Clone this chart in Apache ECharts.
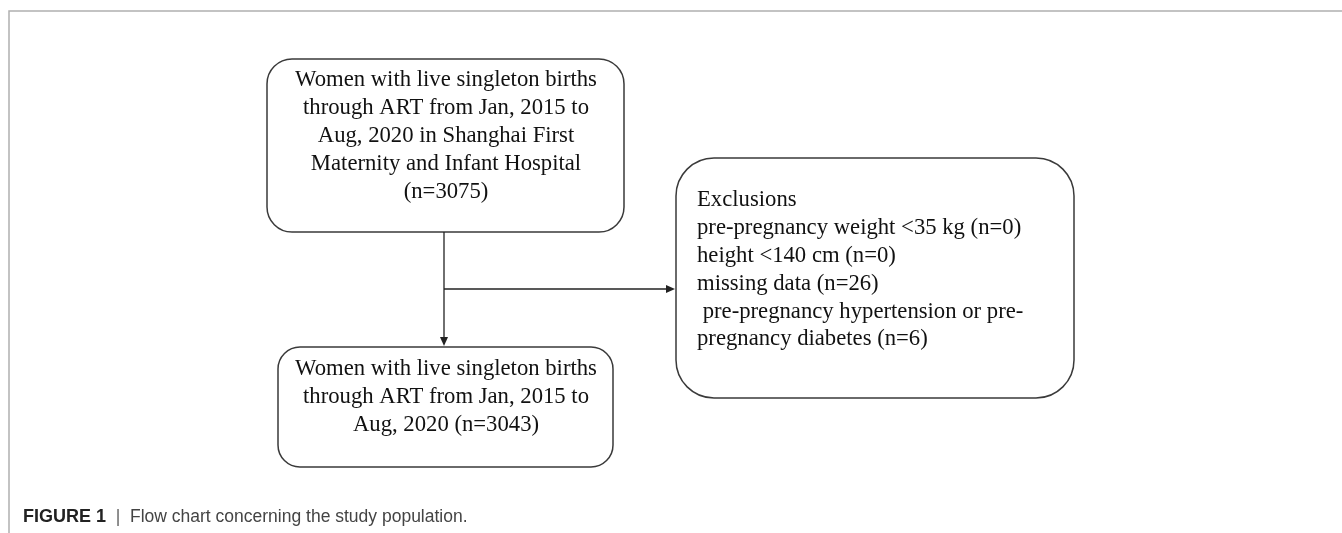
<!DOCTYPE html>
<html>
<head>
<meta charset="utf-8">
<script src="https://cdn.jsdelivr.net/npm/echarts@6/dist/echarts.min.js"></script>
<style>
  html, body { margin: 0; padding: 0; background: #fff; }
  #chart { width: 1342px; height: 533px; }
</style>
</head>
<body>
<div id="chart"></div>
<script>
// box texts
const topLines = [
  'Women with live singleton births',
  'through ART from Jan, 2015 to',
  'Aug, 2020 in Shanghai First',
  'Maternity and Infant Hospital',
  '(n=3075)'
];
const exclusionLines = [
  'Exclusions',
  'pre-pregnancy weight <35 kg (n=0)',
  'height <140 cm (n=0)',
  'missing data (n=26)',
  ' pre-pregnancy hypertension or pre-',
  'pregnancy diabetes (n=6)'
];
const bottomLines = [
  'Women with live singleton births',
  'through ART from Jan, 2015 to',
  'Aug, 2020 (n=3043)'
];
const captionLabel = 'FIGURE 1';
const captionText = 'Flow chart concerning the study population.';

const serif = '22.7px "Liberation Serif", "Times New Roman", serif';
const sans = '"Liberation Sans", Arial, sans-serif';
const boxStroke = { fill: '#fff', stroke: '#3a3a3a', lineWidth: 1.5 };
const lineStyle = { stroke: '#222', lineWidth: 1.3 };

function box(x, y, w, h, r) {
  return { type: 'rect', shape: { x, y, width: w, height: h, r }, style: boxStroke };
}

function arrowHead(points) {
  return { type: 'polygon', shape: { points }, style: { fill: '#222' } };
}

const chart = echarts.init(document.getElementById('chart'), null, { renderer: 'canvas' });

chart.setOption({
  backgroundColor: '#fff',
  graphic: [
    // outer frame
    { type: 'polyline', shape: { points: [[9, 533], [9, 11], [1342, 11]] },
      style: { stroke: '#b0b0b0', lineWidth: 1.5, fill: null } },

    box(267, 59, 357, 173, 25),
    box(676, 158, 398, 240, 38),
    box(278, 347, 335, 120, 22),

    // connectors
    { type: 'line', shape: { x1: 444, y1: 232, x2: 444, y2: 338 }, style: lineStyle },
    arrowHead([[440, 337], [448, 337], [444, 346]]),
    { type: 'line', shape: { x1: 444, y1: 289, x2: 667, y2: 289 }, style: lineStyle },
    arrowHead([[666, 285], [666, 293], [675, 289]]),

    // texts
    { type: 'text', style: { x: 446, y: 136, text: topLines.join('\n'), font: serif,
        fill: '#111', align: 'center', verticalAlign: 'middle', lineHeight: 28 } },
    { type: 'text', style: { x: 697, y: 270, text: exclusionLines.join('\n'), font: serif,
        fill: '#111', align: 'left', verticalAlign: 'middle', lineHeight: 27.8 } },
    { type: 'text', style: { x: 446, y: 397, text: bottomLines.join('\n'), font: serif,
        fill: '#111', align: 'center', verticalAlign: 'middle', lineHeight: 28 } },

    // caption
    { type: 'text', style: {
        x: 23, y: 517, verticalAlign: 'middle', align: 'left',
        text: '{b|' + captionLabel + '}{s|  |  }{t|' + captionText + '}',
        rich: {
          b: { font: 'bold 18px ' + sans, fill: '#222' },
          s: { font: '17.5px ' + sans, fill: '#666' },
          t: { font: '17.5px ' + sans, fill: '#444' }
        }
      } }
  ]
});
</script>
</body>
</html>
